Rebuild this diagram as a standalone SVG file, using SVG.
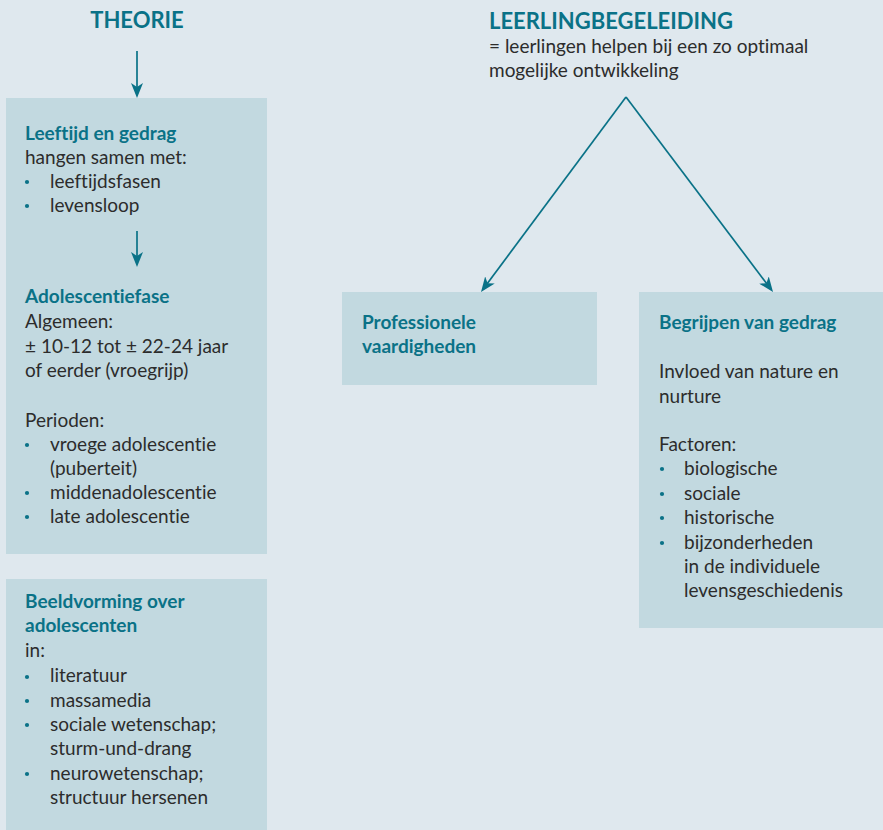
<svg xmlns="http://www.w3.org/2000/svg" width="883" height="830" viewBox="0 0 883 830">
<style>
.bg{fill:#dfe8ee}
.box{fill:#c2d9e0}
text{font-variant-ligatures:none}
.h{font-family:Lato,"Liberation Sans",sans-serif;font-weight:bold;fill:#0a7287}
.big{font-size:22px}
.t{font-family:Lato,"Liberation Sans",sans-serif;font-size:19px;fill:#2c2c2c}
.hs{font-size:19px}
.dot{fill:#0a7287}
.con{stroke:#0a7287;stroke-width:1.7;fill:none}
</style>
<defs>
<marker id="ah" viewBox="0 0 15 12" markerWidth="15" markerHeight="12" refX="11" refY="6" orient="auto" markerUnits="userSpaceOnUse">
<path d="M0,0 L15,6 L0,12 L4,6 Z" fill="#0a7287"/>
</marker>
</defs>
<rect class="bg" x="0" y="0" width="883" height="830"/>

<g id="theorie">
<text class="h big" x="137" y="28" text-anchor="middle">THEORIE</text>
</g>

<g id="leerlingbegeleiding">
<text class="h big" x="489" y="29">LEERLINGBEGELEIDING</text>
<text class="t" x="489" y="53">= leerlingen helpen bij een zo optimaal</text>
<text class="t" x="489" y="77">mogelijke ontwikkeling</text>
</g>

<g id="leeftijd-box">
<rect class="box" x="6" y="98" width="261" height="456"/>
<text class="h hs" x="25" y="140">Leeftijd en gedrag</text>
<text class="t" x="25" y="164">hangen samen met:</text>
<circle class="dot" cx="27" cy="182" r="2.1"/>
<text class="t" x="50" y="188">leeftijdsfasen</text>
<circle class="dot" cx="27" cy="206" r="2.1"/>
<text class="t" x="50" y="212">levensloop</text>
<text class="h hs" x="25" y="303">Adolescentiefase</text>
<text class="t" x="25" y="328">Algemeen:</text>
<text class="t" x="25" y="353">± 10-12 tot ± 22-24 jaar</text>
<text class="t" x="25" y="377">of eerder (vroegrijp)</text>
<text class="t" x="25" y="427">Perioden:</text>
<circle class="dot" cx="27" cy="445" r="2.1"/>
<text class="t" x="50" y="451">vroege adolescentie</text>
<text class="t" x="50" y="475">(puberteit)</text>
<circle class="dot" cx="27" cy="493" r="2.1"/>
<text class="t" x="50" y="499">middenadolescentie</text>
<circle class="dot" cx="27" cy="517" r="2.1"/>
<text class="t" x="50" y="523">late adolescentie</text>
</g>

<g id="beeldvorming-box">
<rect class="box" x="6" y="579" width="261" height="251"/>
<text class="h hs" x="25" y="608">Beeldvorming over</text>
<text class="h hs" x="25" y="632">adolescenten</text>
<text class="t" x="25" y="657">in:</text>
<circle class="dot" cx="27" cy="677" r="2.1"/>
<text class="t" x="50" y="682">literatuur</text>
<circle class="dot" cx="27" cy="701" r="2.1"/>
<text class="t" x="50" y="707">massamedia</text>
<circle class="dot" cx="27" cy="725" r="2.1"/>
<text class="t" x="50" y="731">sociale wetenschap;</text>
<text class="t" x="50" y="755">sturm-und-drang</text>
<circle class="dot" cx="27" cy="774" r="2.1"/>
<text class="t" x="50" y="780">neurowetenschap;</text>
<text class="t" x="50" y="804">structuur hersenen</text>
</g>

<g id="professionele-box">
<rect class="box" x="342" y="292" width="255" height="93"/>
<text class="h hs" x="362" y="329">Professionele</text>
<text class="h hs" x="362" y="353">vaardigheden</text>
</g>

<g id="begrijpen-box">
<rect class="box" x="639" y="292" width="244" height="336"/>
<text class="h hs" x="659" y="329">Begrijpen van gedrag</text>
<text class="t" x="659" y="378">Invloed van nature en</text>
<text class="t" x="659" y="403">nurture</text>
<text class="t" x="659" y="451">Factoren:</text>
<circle class="dot" cx="662" cy="469" r="2.1"/>
<text class="t" x="684" y="475">biologische</text>
<circle class="dot" cx="662" cy="494" r="2.1"/>
<text class="t" x="684" y="500">sociale</text>
<circle class="dot" cx="662" cy="518" r="2.1"/>
<text class="t" x="684" y="524">historische</text>
<circle class="dot" cx="662" cy="543" r="2.1"/>
<text class="t" x="684" y="549">bijzonderheden</text>
<text class="t" x="684" y="573">in de individuele</text>
<text class="t" x="684" y="597">levensgeschiedenis</text>
</g>

<g id="connectors">
<line class="con" x1="137" y1="51" x2="137" y2="94" marker-end="url(#ah)"/>
<line class="con" x1="137" y1="231" x2="137" y2="263" marker-end="url(#ah)"/>
<line class="con" x1="626" y1="97" x2="483.4" y2="288.8" marker-end="url(#ah)"/>
<line class="con" x1="626" y1="97" x2="770.6" y2="288.8" marker-end="url(#ah)"/>
</g>
</svg>
